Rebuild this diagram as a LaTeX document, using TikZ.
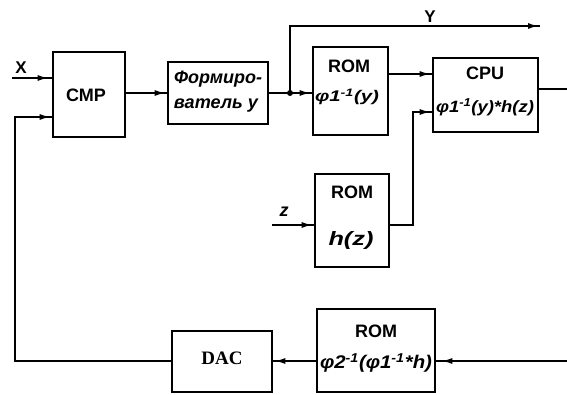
\documentclass[tikz,border=0pt]{standalone}
\usepackage{fontspec}
\usepackage{graphicx}
\setmainfont{Liberation Sans}
\newfontfamily\serifb{Liberation Serif}
\usetikzlibrary{arrows.meta,decorations.markings}
\tikzset{
 blk/.style={draw, line width=2.6pt, inner sep=0pt},
 wire/.style={line width=1.9pt},
 tipat/.style={decoration={markings, mark=at position #1 with {\arrow{Latex[length=11pt,width=6pt]}}}, postaction={decorate}},
 lbl/.style={inner sep=0pt, font=\bfseries\fontsize{18}{18}\selectfont},
 fml/.style={inner sep=0pt, font=\bfseries\itshape\fontsize{15}{15}\selectfont},
 sig/.style={inner sep=0pt, font=\bfseries\fontsize{17}{17}\selectfont},
}
\begin{document}
\begin{tikzpicture}[x=1pt,y=-1pt]
\useasboundingbox (0,0) rectangle (567,395);
\fill[white] (0,0) rectangle (567,395);
% blocks
\node[blk, minimum width=72pt, minimum height=85pt] (cmp) at (89,94.5) {};
\node[lbl] (cmpt) at (86,95) {CMP};
\node[blk, minimum width=100pt, minimum height=62pt] (frm) at (218,93) {};
\node[fml] (frm1) at (218,79) {\resizebox{88pt}{!}{Формиро-}};
\node[fml] (frm2) at (216,106) {\resizebox{84pt}{!}{ватель y}};
\node[blk, minimum width=75pt, minimum height=88pt] (rom1) at (350.5,91) {};
\node[lbl] (rom1t) at (349,66) {ROM};
\node[fml] (rom1f) at (347,97) {\resizebox*{64pt}{16pt}{φ1\textsuperscript{-1}(y)}};
\node[blk, minimum width=105pt, minimum height=74pt] (cpu) at (485.5,95) {};
\node[lbl] (cput) at (485,73) {CPU};
\node[fml] (cpuf) at (485,107) {\resizebox*{98pt}{17pt}{φ1\textsuperscript{-1}(y)*h(z)}};
\node[blk, minimum width=74pt, minimum height=93pt] (rom2) at (352,220.5) {};
\node[lbl] (rom2t) at (352,192) {ROM};
\node[fml] (rom2f) at (351,241) {\resizebox*{45pt}{18pt}{h(z)}};
\node[blk, minimum width=100pt, minimum height=61pt] (dac) at (222,361.5) {};
\node[inner sep=0pt, font=\serifb\bfseries\fontsize{19}{19}\selectfont] (dact) at (222,358) {DAC};
\node[blk, minimum width=118pt, minimum height=83pt] (rom3) at (376,350.5) {};
\node[lbl] (rom3t) at (376,331) {ROM};
\node[fml] (rom3f) at (376,363) {\resizebox*{112pt}{19pt}{φ2\textsuperscript{-1}(φ1\textsuperscript{-1}*h)}};
% coordinates
\coordinate (xin) at (12,78);
\coordinate (fbA) at (15,361);
\coordinate (fbB) at (15,117);
\coordinate (J) at (290,93);
\coordinate (yout) at (540,26);
\coordinate (bend1) at (413,225);
\coordinate (bend2) at (413,112);
\coordinate (zin) at (272,225);
\coordinate (cout) at (567,89);
\coordinate (rin) at (567,361);
% labels
\node[sig] (xl) at (21,68) {X};
\node[sig] (yl) at (430,17) {Y};
\node[sig, font=\bfseries\itshape\fontsize{18}{18}\selectfont] (zl) at (284,212) {z};
% wires
\draw[wire,tipat=-3pt] (xin) -- (xin -| cmp.west);
\draw[wire,tipat=-1pt] (dac.west |- fbA) -- (fbA) -- (fbB) -- (fbB -| cmp.west);
\draw[wire,tipat=-1pt] (cmp.east |- frm.west) -- (frm.west);
\draw[wire] (frm.east) -- (J);
\draw[wire,tipat=-1pt] (J) -- (J -| rom1.west);
\draw[wire,tipat=-1pt] (J) -- (J |- yout) -- (yout);
\fill (J) circle (3pt);
\draw[wire,tipat=-1pt] (rom1.east |- 0,74) -- (cpu.west |- 0,74);
\draw[wire,tipat=-1pt] (rom2.east |- bend1) -- (bend1) -- (bend2) -- (bend2 -| cpu.west);
\draw[wire,tipat=-1pt] (zin) -- (zin -| rom2.west);
\draw[wire] (cpu.east |- cout) -- (cout);
\draw[wire,tipat=-5pt] (rin) -- (rin -| rom3.east);
\draw[wire,tipat=-1pt] (rom3.west |- fbA) -- (dac.east |- fbA);
\end{tikzpicture}
\end{document}
